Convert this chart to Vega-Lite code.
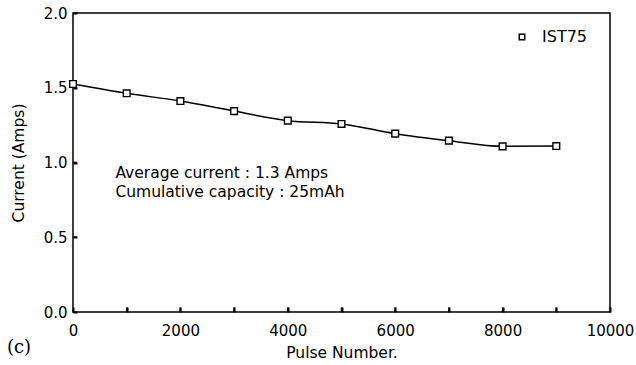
{
  "$schema": "https://vega.github.io/schema/vega-lite/v6.json",
  "width": 537,
  "height": 299,
  "autosize": {"type": "none"},
  "padding": {"left": 73, "top": 13, "right": 26, "bottom": 53},
  "background": "white",
  "config": {
    "view": {"stroke": "black", "strokeWidth": 1.5},
    "font": "DejaVu Sans",
    "axis": {
      "domain": false,
      "grid": false,
      "labelColor": "black",
      "labelFontSize": 15,
      "labelFont": "DejaVu Sans",
      "titleColor": "black",
      "titleFont": "DejaVu Sans",
      "titleFontSize": 15.5,
      "titleFontWeight": "normal"
    }
  },
  "layer": [
    {
      "data": {
        "values": [
          {"pulse": 0, "current": 1.525, "series": "IST75"},
          {"pulse": 1000, "current": 1.463, "series": "IST75"},
          {"pulse": 2000, "current": 1.411, "series": "IST75"},
          {"pulse": 3000, "current": 1.344, "series": "IST75"},
          {"pulse": 4000, "current": 1.28, "series": "IST75"},
          {"pulse": 5000, "current": 1.258, "series": "IST75"},
          {"pulse": 6000, "current": 1.193, "series": "IST75"},
          {"pulse": 7000, "current": 1.146, "series": "IST75"},
          {"pulse": 8000, "current": 1.108, "series": "IST75"},
          {"pulse": 9000, "current": 1.11, "series": "IST75"}
        ]
      },
      "layer": [
        {
          "mark": {"type": "line", "interpolate": "monotone", "color": "black", "strokeWidth": 1.5},
          "encoding": {
            "x": {
              "field": "pulse", "type": "quantitative",
              "scale": {"domain": [0, 10000], "nice": false},
              "axis": {
                "title": "Pulse Number.",
                "values": [0, 1000, 2000, 3000, 4000, 5000, 6000, 7000, 8000, 9000, 10000],
                "format": "d",
                "labelExpr": "datum.value % 2000 == 0 ? datum.label : ''",
                "ticks": true,
                "tickColor": "black",
                "tickWidth": 2,
                "tickSize": 5,
                "offset": -5,
                "labelPadding": 11.5,
                "titlePadding": 7,
                "labelFlush": false
              }
            },
            "y": {
              "field": "current", "type": "quantitative",
              "scale": {"domain": [0, 2], "nice": false},
              "axis": {
                "title": "Current (Amps)",
                "values": [0, 0.5, 1, 1.5, 2],
                "format": ".1f",
                "ticks": true,
                "tickColor": "black",
                "tickWidth": 2,
                "offset": -4,
                "tickSize": 4,
                "labelPadding": 6,
                "titlePadding": 17
              }
            }
          }
        },
        {
          "mark": {"type": "point", "filled": false, "fill": "white", "stroke": "black", "strokeWidth": 1.4, "size": 45, "opacity": 1},
          "encoding": {
            "x": {"field": "pulse", "type": "quantitative"},
            "y": {"field": "current", "type": "quantitative"},
            "shape": {
              "field": "series", "type": "nominal",
              "scale": {"range": ["square"]},
              "legend": {
                "title": null,
                "orient": "none",
                "legendX": 441,
                "legendY": 16,
                "symbolType": "square",
                "symbolSize": 30,
                "labelFontSize": 16,
                "labelColor": "black",
                "labelOffset": 12,
                "labelFont": "DejaVu Sans",
                "encode": {
                  "symbols": {
                    "update": {
                      "stroke": {"value": "black"},
                      "strokeWidth": {"value": 2},
                      "fill": {"value": "white"},
                      "opacity": {"value": 1},
                      "fillOpacity": {"value": 1},
                      "strokeOpacity": {"value": 1}
                    }
                  }
                }
              }
            }
          }
        }
      ]
    },
    {
      "data": {"values": [{"pulse": 1000}, {"pulse": 2000}, {"pulse": 3000}, {"pulse": 4000}, {"pulse": 5000}, {"pulse": 6000}, {"pulse": 7000}, {"pulse": 8000}, {"pulse": 9000}]},
      "mark": {"type": "rule", "color": "black", "strokeWidth": 1.6},
      "encoding": {
        "x": {"field": "pulse", "type": "quantitative"},
        "y": {"datum": 0},
        "y2": {"datum": 0.03}
      }
    },
    {
      "data": {"values": [{"current": 0.5}, {"current": 1.0}, {"current": 1.5}]},
      "mark": {"type": "rule", "color": "black", "strokeWidth": 1.6},
      "encoding": {
        "y": {"field": "current", "type": "quantitative"},
        "x": {"datum": 0},
        "x2": {"datum": 70}
      }
    },
    {
      "data": {
        "values": [
          {"pulse": 790, "current": 0.932, "label": "Average current : 1.3 Amps"},
          {"pulse": 790, "current": 0.805, "label": "Cumulative capacity : 25mAh"}
        ]
      },
      "mark": {"type": "text", "align": "left", "baseline": "middle", "fontSize": 15.5, "color": "black", "font": "DejaVu Sans"},
      "encoding": {
        "x": {"field": "pulse", "type": "quantitative"},
        "y": {"field": "current", "type": "quantitative"},
        "text": {"field": "label"}
      }
    },
    {
      "data": {"values": [{"pulse": -1230, "current": -0.241, "label": "(c)"}]},
      "mark": {"type": "text", "align": "left", "baseline": "middle", "fontSize": 18, "color": "black", "font": "DejaVu Serif", "clip": false},
      "encoding": {
        "x": {"field": "pulse", "type": "quantitative"},
        "y": {"field": "current", "type": "quantitative"},
        "text": {"field": "label"}
      }
    }
  ]
}
